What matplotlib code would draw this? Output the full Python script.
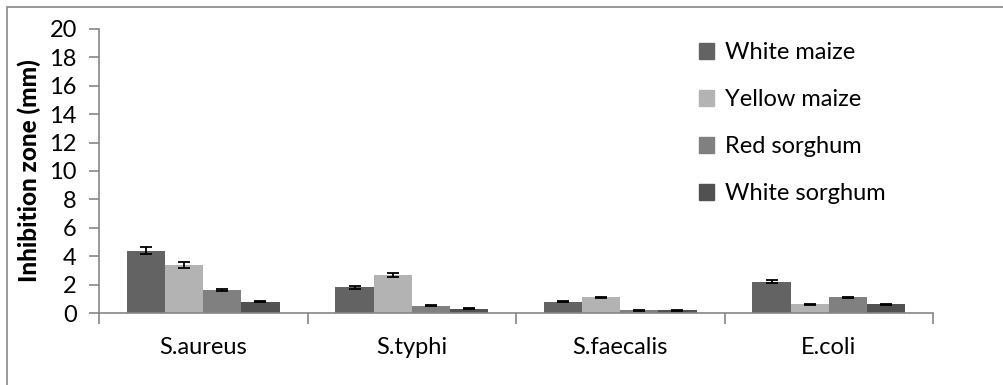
import numpy as np
import matplotlib.pyplot as plt
from matplotlib.patches import Rectangle, Patch

plt.rcParams['font.family'] = ['Lato', 'DejaVu Sans']

# data
bacteria = ['S.aureus', 'S.typhi', 'S.faecalis', 'E.coli']
grains = ['White maize', 'Yellow maize', 'Red sorghum', 'White sorghum']
white_maize = [4.4, 1.8, 0.8, 2.2]
yellow_maize = [3.4, 2.7, 1.1, 0.6]
red_sorghum = [1.6, 0.5, 0.2, 1.1]
white_sorghum = [0.8, 0.3, 0.2, 0.6]
white_maize_err = [0.22, 0.1, 0.05, 0.1]
yellow_maize_err = [0.2, 0.15, 0.06, 0.05]
red_sorghum_err = [0.08, 0.04, 0.04, 0.06]
white_sorghum_err = [0.05, 0.04, 0.04, 0.05]
colors = ['#636363', '#b3b3b3', '#808080', '#515151']

series = [white_maize, yellow_maize, red_sorghum, white_sorghum]
errors = [white_maize_err, yellow_maize_err, red_sorghum_err, white_sorghum_err]

fig = plt.figure(figsize=(10.04, 3.85), dpi=100)
ax = fig.add_axes([0.0986, 0.187, 0.8307, 0.7377])

# outer frame (only its top and left edges fall inside the picture)
fig.patches.append(Rectangle((0.007, -0.2), 1.2, 1.182, transform=fig.transFigure,
                             fill=False, edgecolor='#888888', linewidth=1.2))

x = np.arange(len(bacteria)) + 0.5
w = 0.183
for i, (vals, errs) in enumerate(zip(series, errors)):
    ax.bar(x + (i - 1.5) * w, vals, w, color=colors[i], label=grains[i],
           yerr=errs, capsize=4, error_kw=dict(ecolor='black', elinewidth=1.3, capthick=1.3))

ax.set_xlim(0, 4)
ax.set_ylim(0, 20)
ax.set_yticks(np.arange(0, 21, 2))
ax.set_xticks(x)
ax.set_xticklabels(bacteria)
ax.set_xticks(np.arange(0, 5), minor=True)
ax.tick_params(axis='x', which='major', length=0, pad=17, labelsize=17)
ax.tick_params(axis='x', which='minor', length=8, color='#868686', width=1.2)
ax.tick_params(axis='y', length=7, color='#868686', width=1.2, labelsize=17, pad=9)
for side in ['top', 'right']:
    ax.spines[side].set_visible(False)
for side in ['left', 'bottom']:
    ax.spines[side].set_color('#868686')
    ax.spines[side].set_linewidth(1.2)

ax.set_ylabel('Inhibition zone (mm)', fontsize=17.5, fontweight='black', labelpad=6)

handles = [Patch(color=c) for c in colors]
ax.legend(handles, grains, loc='upper left', bbox_to_anchor=(0.675, 0.945),
          bbox_transform=fig.transFigure, frameon=False, fontsize=17,
          handlelength=0.65, handleheight=0.65, handletextpad=0.45, labelspacing=1.1)

fig.savefig('out.png', dpi=100)
